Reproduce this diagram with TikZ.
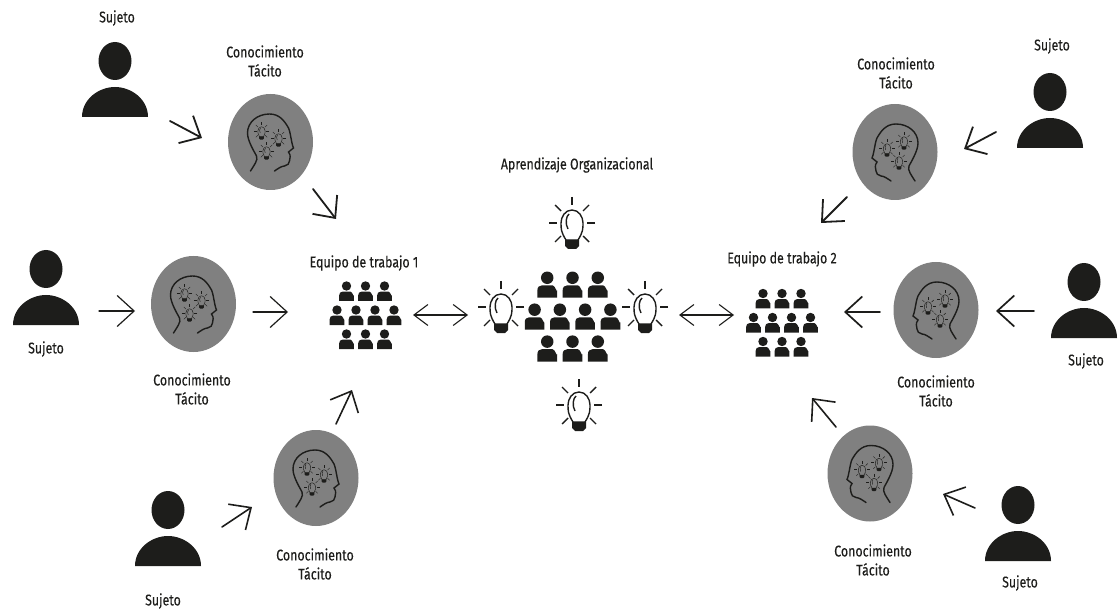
\documentclass[tikz,border=0pt]{standalone}
\usepackage{fontspec}
\setmainfont[FakeStretch=0.8, FakeBold=0.25]{Fira Sans}
\usetikzlibrary{arrows.meta}
\usetikzlibrary{shapes.geometric}

\definecolor{tinta}{HTML}{1D1D1B}
\definecolor{gris}{HTML}{808080}

\tikzset{
	texto/.style = {align=center, inner sep=0pt, text=tinta, font=\fontsize{15.5}{19}\selectfont},
	cabeza/.style = {ellipse, fill=gris, minimum width=85pt, minimum height=96pt, inner sep=0pt},
	flecha/.style = {-{Straight Barb[length=17pt, width=31pt]}, color=tinta, line cap=round},
	dobleflecha/.style = {{Straight Barb[length=14pt, width=21pt]}-{Straight Barb[length=14pt, width=21pt]}, line width=1.1pt, color=tinta},
	sujeto/.pic = {
		\fill[tinta] (0, -56) ellipse (16.5 and 19);
		\fill[tinta] (-33, 0) .. controls +(0, -18) and +(-16, 0) ..
			(0, -30) .. controls +(16, 0) and +(0, -18) ..
			(33, 0) -- (-33, 0);
	},
	miembro/.pic = {
		\fill[tinta] (0, -5.5) circle (4.7);
		\fill[tinta] (-7.4, 9.5) -- (-7.4, 4) .. controls +(0, -2.5) and +(-2, 0) ..
			(-4, 0.2) -- (4, 0.2) .. controls +(2, 0) and +(0, 2.5) ..
			(7.4, 4) -- (7.4, 9.5) -- (-7.4, 9.5);
	},
	equipo/.pic = {
		\foreach \px in {-19, 0, 19} {
			\pic[transform shape] at (\px, -24) {miembro};
			\pic[transform shape] at (\px, 24) {miembro};
		}
		\foreach \px in {-28.5, -9.5, 9.5, 28.5}
			\pic[transform shape] at (\px, 0) {miembro};
	},
	foco/.pic = {
		\draw[line cap=round] (0, -13) .. controls +(-7, 0) and +(0, -6) ..
			(-11, 0) .. controls +(0, 6) and +(-5, -8) ..
			(-6, 17) -- (6, 17) .. controls +(5, -8) and +(0, 6) ..
			(11, 0) .. controls +(0, -6) and +(7, 0) ..
			(0, -13);
		\draw (-3, -9) .. controls +(-3, 2) and +(-3, -5) .. (-4, 6);
		\fill[tinta] (-7, 17) -- (7, 17) -- (7, 23) -- (4, 26) -- (-4, 26) -- (-7, 23) -- (-7, 17);
		\draw (0, -26) -- (0, -18);
		\draw (-23, 0) -- (-15, 0);
		\draw (23, 0) -- (15, 0);
		\draw (-17, -18) -- (-11, -12);
		\draw (17, -18) -- (11, -12);
		\draw (-17, 19) -- (-11, 13);
		\draw (17, 19) -- (11, 13);
	},
	perfil/.pic = {
		\draw[line width=1.4pt, tinta, line cap=round]
			(-20, 29) .. controls +(3, -5) and +(2, 4) ..
			(-14, 14) .. controls +(-2, -4) and +(0, 8) ..
			(-23, -9) .. controls +(0, -11) and +(-12, 0) ..
			(-1, -28) .. controls +(10, 0) and +(-4, -7) ..
			(18, -14) .. controls +(2, 4) and +(-2, -4) ..
			(23, 6) -- (18, 10) .. controls +(3, 4) and +(0, -3) ..
			(19, 19) .. controls +(0, 3) and +(3, -1) ..
			(14, 24) .. controls +(-3, 0) and +(3, -2) ..
			(4, 29);
		\pic[scale=0.33, line width=0.45pt, tinta] at (-9, -11) {foco};
		\pic[scale=0.33, line width=0.45pt, tinta] at (8, -4) {foco};
		\pic[scale=0.33, line width=0.45pt, tinta] at (-4, 9) {foco};
	}
}

\begin{document}
\begin{tikzpicture}[x=1pt, y=-1pt]

\useasboundingbox (0, 0) rectangle (1118, 609);

%sujetos
\pic at (115, 117) {sujeto};
\pic at (46, 325) {sujeto};
\pic at (168, 566) {sujeto};
\pic at (1050, 148) {sujeto};
\pic at (1084, 338) {sujeto};
\pic at (1018, 561) {sujeto};

\node[texto] (s1) at (117, 18) {Sujeto};
\node[texto] (s2) at (46, 349) {Sujeto};
\node[texto] (s3) at (163, 601) {Sujeto};
\node[texto] (s4) at (1052, 46) {Sujeto};
\node[texto] (s5) at (1086, 361) {Sujeto};
\node[texto] (s6) at (1020, 583) {Sujeto};

%conocimiento
\node[cabeza] (c1) at (270.5, 142) {};
\node[cabeza] (c2) at (193.5, 304) {};
\node[cabeza] (c3) at (316, 478) {};
\node[cabeza] (c4) at (895, 152) {};
\node[cabeza] (c5) at (936, 310) {};
\node[cabeza] (c6) at (870, 473.5) {};

\pic at (c1) {perfil};
\pic at (c2) {perfil};
\pic at (c3) {perfil};
\pic[xscale=-1] at (c4) {perfil};
\pic[xscale=-1] at (c5) {perfil};
\pic[xscale=-1] at (c6) {perfil};

\node[texto] (t1) at (265, 61) {Conocimiento\\Tácito};
\node[texto] (t2) at (192, 389) {Conocimiento\\Tácito};
\node[texto] (t3) at (315, 564) {Conocimiento\\Tácito};
\node[texto] (t4) at (896, 73) {Conocimiento\\Tácito};
\node[texto] (t5) at (936, 391) {Conocimiento\\Tácito};
\node[texto] (t6) at (873, 560) {Conocimiento\\Tácito};

%equipos
\pic at (365.5, 315.5) {equipo};
\pic at (782, 323) {equipo};
\pic[scale=1.33] at (572.5, 317) {equipo};

\node[texto] (e1) at (364, 263) {Equipo de trabajo 1};
\node[texto] (e2) at (782, 259) {Equipo de trabajo 2};
\node[texto] (ao) at (577, 165) {Aprendizaje Organizacional};

%focos
\pic[line width=1.4pt, tinta] at (572, 223) {foco};
\pic[line width=1.4pt, tinta] at (501, 307) {foco};
\pic[line width=1.4pt, tinta] at (645, 307) {foco};
\pic[line width=1.4pt, tinta] at (579, 405) {foco};

%flechas
\foreach \nombre/\xa/\ya/\xb/\yb/\ancho in {
	f1/170/121/202/138/1.8, f2/313/189/336/219/1.8,
	f3/99/311/135/311/1.2, f4/253/312/288/312/1.2,
	f5/222/527/252/507/1.6, f6/336/424/352/390/1.6,
	f7/996/132/964/149/1.8, f8/847/197/821/223/1.8,
	f9/1034/311/996/311/1.7, f10/880/312/844/312/1.7,
	f11/975/508/943/494/1.6, f12/836/427/812/398/1.6} {
	\coordinate (\nombre a) at (\xa, \ya);
	\coordinate (\nombre b) at (\xb, \yb);
	\draw[flecha, line width=\ancho pt] (\nombre a) -- (\nombre b);
}

\coordinate (d1a) at (413, 315);
\coordinate (d1b) at (468, 315);
\coordinate (d2a) at (679, 315);
\coordinate (d2b) at (734, 315);
\draw[dobleflecha] (d1a) -- (d1b);
\draw[dobleflecha] (d2a) -- (d2b);

\end{tikzpicture}
\end{document}
